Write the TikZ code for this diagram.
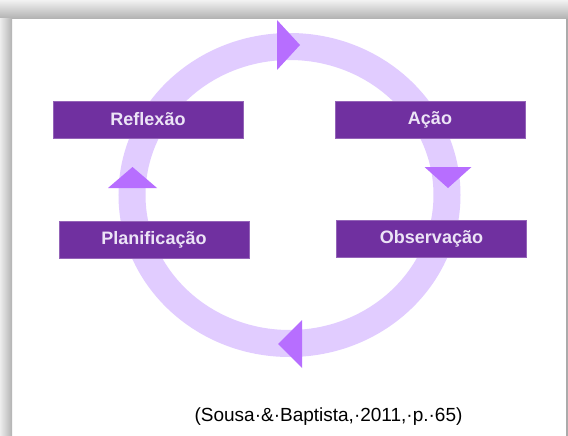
\documentclass[tikz,border=0pt]{standalone}
\usepackage{fontspec}
\setmainfont{Liberation Sans}
\usetikzlibrary{positioning}
\definecolor{boxpurple}{RGB}{112,48,160}
\definecolor{ringlilac}{RGB}{225,204,255}
\definecolor{tiplilac}{RGB}{183,110,255}
\definecolor{boxtext}{RGB}{236,228,246}

\begin{document}
\begin{tikzpicture}[x=1pt, y=-1pt,
				stage/.style={fill=boxpurple, draw=boxpurple!75!white, line width=0.6pt, minimum width=190pt, minimum height=37pt, inner sep=0pt, text=boxtext, font=\fontsize{18}{21}\selectfont\bfseries},
				ring/.style={draw=ringlilac, line width=27pt},
				tip/.style={fill=tiplilac},
			]
				\useasboundingbox (0,0) rectangle (568,436);
				% frame with its shadow
				\fill[white] (0,0) rectangle (568,436);
				\shade[top color=black!5, bottom color=black!31] (0,0) rectangle (568,19);
				\shade[left color=black!7, right color=black!30] (0,19) rectangle (12,436);
				\fill[black!33] (566,19) rectangle (568,436);

				\path (289.5,195) coordinate (c);
				\draw[ring] (c) ellipse [x radius=157.5, y radius=148.5];

				\path (288,45) coordinate (t1)
					(448,177) coordinate (t2)
					(290,344) coordinate (t3)
					(132.5,177) coordinate (t4);
				\fill[tip] (t1) ++(-11,-25) -- ++(23,25) -- ++(-23,25) -- cycle;
				\fill[tip] (t2) ++(-23.5,-10) -- ++(47,0) -- ++(-23.5,21) -- cycle;
				\fill[tip] (t3) ++(12,-24) -- ++(0,48) -- ++(-24,-24) -- cycle;
				\fill[tip] (t4) ++(-24.5,11) -- ++(49,0) -- ++(-24.5,-21) -- cycle;

				\node[stage] (reflexao) at (148,119.5) {Reflexão};
				\node[stage] (acao) at (430,119.5) {Ação};
				\node[stage] (planificacao) at (154,240) {Planificação};
				\node[stage] (observacao) at (431.5,238.5) {Observação};

				\node[font=\fontsize{19}{22}\selectfont] (fonte) at (328.5,416.5) {(Sousa·\&·Baptista,·2011,·p.·65)};
			\end{tikzpicture}
\end{document}
